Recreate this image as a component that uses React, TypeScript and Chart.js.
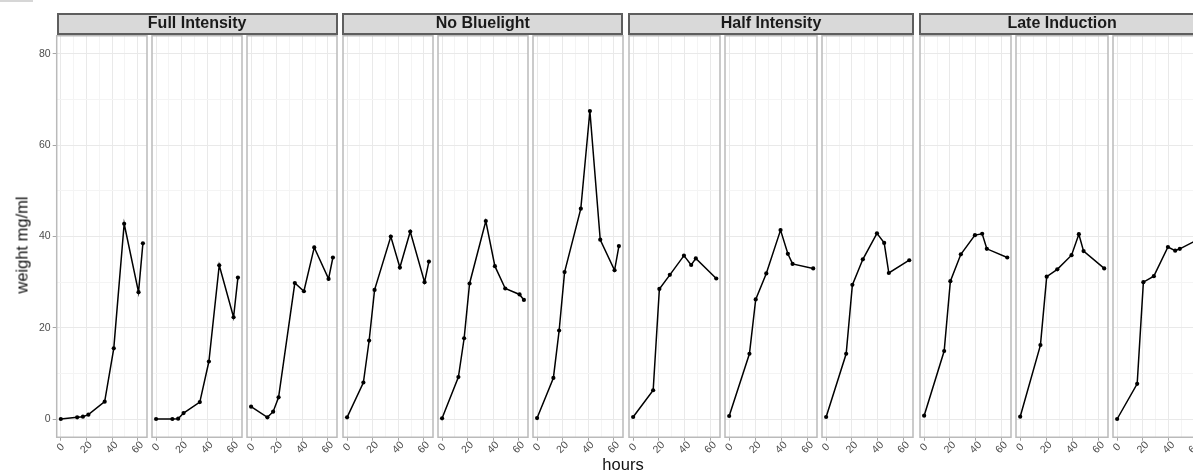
import React, { useEffect, useRef } from "react";
import { Chart, registerables } from "chart.js";

Chart.register(...registerables);
Chart.defaults.font.family = "'Liberation Sans', Arial, Helvetica, sans-serif";

// Sampling times (hours) for the two measurement schedules
const hoursEarly = [0, 12.75, 17.25, 21.5, 34.2, 41.3, 49.4, 60.6, 64];
const hoursLate = [0, 15.5, 20.3, 28.4, 39.3, 44.9, 48.5, 64.3];

const conditions = ["Full Intensity", "No Bluelight", "Half Intensity", "Late Induction"];

// weight (mg/ml) per replicate
const fullIntensity1 = [0, 0.37, 0.5, 0.95, 3.8, 15.5, 42.8, 27.8, 38.5];
const fullIntensity2 = [0, 0, 0.07, 1.3, 3.7, 12.6, 33.7, 22.3, 31.0];
const fullIntensity3 = [2.7, 0.37, 1.6, 4.75, 29.8, 28.0, 37.6, 30.7, 35.4];

const noBluelight1 = [0.37, 8.0, 17.2, 28.3, 40.0, 33.2, 41.1, 30.0, 34.5];
const noBluelight2 = [0.15, 9.2, 17.7, 29.7, 43.4, 33.5, 28.6, 27.3, 26.1];
const noBluelight3 = [0.2, 9.0, 19.4, 32.2, 46.1, 67.5, 39.3, 32.6, 37.9];

const halfIntensity1 = [0.44, 6.3, 28.5, 31.6, 35.8, 33.75, 35.2, 30.8];
const halfIntensity2 = [0.66, 14.3, 26.2, 31.9, 41.4, 36.2, 34.0, 33.0];
const halfIntensity3 = [0.44, 14.3, 29.4, 35.0, 40.7, 38.6, 32.0, 34.8];

const lateInduction1 = [0.73, 14.9, 30.2, 36.1, 40.3, 40.6, 37.3, 35.4];
const lateInduction2 = [0.5, 16.2, 31.2, 32.8, 35.9, 40.5, 36.8, 33.0];
const lateInduction3 = [0, 7.7, 30.0, 31.3, 37.7, 36.9, 37.3, 39.6];

// axis breaks
const xGrid = [0, 10, 20, 30, 40, 50, 60];
const xLabelTicks = [0, 20, 40, 60];
const yGrid = [0, 10, 20, 30, 40, 50, 60, 70, 80];
const xRange = [-3.2, 67.2];
const yRange = [-4, 84];

const panels = [
  { group: 0, hours: hoursEarly, values: fullIntensity1 },
  { group: 0, hours: hoursEarly, values: fullIntensity2 },
  { group: 0, hours: hoursEarly, values: fullIntensity3 },
  { group: 1, hours: hoursEarly, values: noBluelight1 },
  { group: 1, hours: hoursEarly, values: noBluelight2 },
  { group: 1, hours: hoursEarly, values: noBluelight3 },
  { group: 2, hours: hoursLate, values: halfIntensity1 },
  { group: 2, hours: hoursLate, values: halfIntensity2 },
  { group: 2, hours: hoursLate, values: halfIntensity3 },
  { group: 3, hours: hoursLate, values: lateInduction1 },
  { group: 3, hours: hoursLate, values: lateInduction2 },
  { group: 3, hours: hoursLate, values: lateInduction3 },
];

// page layout
const PAGE_W = 1193;
const PAGE_H = 473;
const GROUP_LEFT = [56.7, 342.3, 628.3, 919.3];
const PANEL_W = [91, 91, 92.5, 92.5];
const PANEL_GAP = 4;
const PANEL_TOP = 35.75;
const PANEL_BOTTOM = 437.25;
const X_AXIS_H = 6;
const STRIP_TOP = 13.3;
const STRIP_H = 21.7;

const TICK_GREY = "#a6a6a6";
const TEXT_GREY = "#4d4d4d";

const isMajor = (v: number) => v % 20 === 0;

const panelFrame = {
  id: "panelFrame",
  afterDraw(chart: any) {
    const { ctx, chartArea } = chart;
    ctx.save();
    ctx.strokeStyle = "#bababa";
    ctx.lineWidth = 1.5;
    ctx.strokeRect(chartArea.left, chartArea.top, chartArea.right - chartArea.left, chartArea.bottom - chartArea.top);
    ctx.restore();
  },
};

const slantedXLabels = {
  id: "slantedXLabels",
  afterDraw(chart: any) {
    const { ctx, scales } = chart;
    const xs = scales.x;
    ctx.save();
    ctx.fillStyle = TEXT_GREY;
    ctx.font = "10.5px 'Liberation Sans', Arial, sans-serif";
    ctx.textAlign = "center";
    ctx.textBaseline = "middle";
    xLabelTicks.forEach((v) => {
      const px = xs.getPixelForValue(v);
      ctx.save();
      ctx.translate(px, 447.5);
      ctx.rotate(-Math.PI / 4);
      ctx.fillText(String(v), 0, 0);
      ctx.restore();
    });
    ctx.restore();
  },
};

function panelLeft(index: number) {
  const g = panels[index].group;
  const j = index - g * 3;
  return GROUP_LEFT[g] + j * (PANEL_W[g] + PANEL_GAP);
}

function Panel({ index }: { index: number }) {
  const ref = useRef<HTMLCanvasElement>(null);
  const { group, hours, values } = panels[index];
  const first = index === 0;
  const left = panelLeft(index);
  const width = PANEL_W[group];
  const canvasLeft = first ? 0 : Math.floor(left) - 3;
  const canvasRight = Math.ceil(left + width) + 3;
  const cw = canvasRight - canvasLeft;

  useEffect(() => {
    const yAxisW = first ? left - canvasLeft : 0;
    const gridColor = (c: any) => (isMajor(c.tick?.value ?? 0) ? "#e9e9e9" : "#f4f4f4");
    const chart = new Chart(ref.current as HTMLCanvasElement, {
      type: "line",
      data: {
        datasets: [
          {
            data: hours.map((h, i) => ({ x: h, y: values[i] })),
            borderColor: "#000",
            borderWidth: 1.5,
            pointRadius: 2.1,
            pointBackgroundColor: "#000",
            pointBorderWidth: 0,
            tension: 0,
            fill: false,
          },
        ],
      },
      options: {
        responsive: false,
        animation: false,
        devicePixelRatio: 1,
        events: [],
        layout: {
          padding: {
            left: left - canvasLeft - yAxisW,
            right: canvasRight - (left + width),
            top: PANEL_TOP,
            bottom: PAGE_H - PANEL_BOTTOM - X_AXIS_H,
          },
        },
        plugins: { legend: { display: false }, tooltip: { enabled: false } },
        scales: {
          x: {
            type: "linear",
            min: xRange[0],
            max: xRange[1],
            afterBuildTicks: (s: any) => {
              s.ticks = xGrid.map((v) => ({ value: v }));
            },
            afterFit: (s: any) => {
              s.height = X_AXIS_H;
            },
            ticks: { display: false },
            border: { display: false },
            grid: {
              color: gridColor,
              lineWidth: 1,
              drawTicks: true,
              tickLength: 3.5,
              tickWidth: 1,
              tickColor: (c: any) => (isMajor(c.tick?.value ?? 1) ? TICK_GREY : "rgba(0,0,0,0)"),
            },
          },
          y: {
            type: "linear",
            min: yRange[0],
            max: yRange[1],
            afterBuildTicks: (s: any) => {
              s.ticks = yGrid.map((v) => ({ value: v }));
            },
            afterFit: (s: any) => {
              s.width = yAxisW;
            },
            ticks: {
              display: first,
              padding: 2,
              color: TEXT_GREY,
              font: { size: 10.5 },
              autoSkip: false,
              callback: (v: any) => (isMajor(Number(v)) ? String(v) : ""),
            },
            border: { display: false },
            grid: {
              color: gridColor,
              lineWidth: 1,
              drawTicks: first,
              tickLength: 4,
              tickWidth: 1,
              tickColor: (c: any) => (isMajor(c.tick?.value ?? 1) ? TICK_GREY : "rgba(0,0,0,0)"),
            },
          },
        },
      } as any,
      plugins: [panelFrame, slantedXLabels],
    });
    return () => chart.destroy();
  }, []);

  return (
    <canvas
      ref={ref}
      width={cw}
      height={PAGE_H}
      style={{ position: "absolute", left: canvasLeft, top: 0, width: cw, height: PAGE_H }}
    />
  );
}

function Strip({ group }: { group: number }) {
  const left = GROUP_LEFT[group];
  const right = left + 3 * PANEL_W[group] + 2 * PANEL_GAP;
  return (
    <div
      style={{
        position: "absolute",
        left,
        top: STRIP_TOP,
        width: right - left,
        height: STRIP_H,
        boxSizing: "border-box",
        background: "#d9d9d9",
        border: "2px solid #5e5e5e",
      }}
    >
      <div
        style={{
          position: "absolute",
          left: 0,
          right: 0,
          top: -2.3,
          lineHeight: "20px",
          textAlign: "center",
          fontWeight: "bold",
          fontSize: 16,
          color: "#1a1a1a",
          whiteSpace: "nowrap",
        }}
      >
        {conditions[group]}
      </div>
    </div>
  );
}

export default function App() {
  return (
    <div
      style={{
        position: "fixed",
        left: 0,
        top: 0,
        width: PAGE_W,
        height: PAGE_H,
        overflow: "hidden",
        background: "#fff",
        fontFamily: "'Liberation Sans', Arial, Helvetica, sans-serif",
      }}
    >
      <div style={{ position: "absolute", left: 0, top: 0, width: 33, height: 1.5, background: "#d6d6d6" }} />
      {panels.map((_, i) => (
        <Panel key={i} index={i} />
      ))}
      {conditions.map((_, g) => (
        <Strip key={g} group={g} />
      ))}
      <div
        style={{
          position: "absolute",
          left: 21.8,
          top: 245,
          transform: "translate(-50%, -50%) rotate(-90deg)",
          fontSize: 16.5,
          lineHeight: "19px",
          color: "#111",
          whiteSpace: "nowrap",
        }}
      >
        weight mg/ml
      </div>
      <div
        style={{
          position: "absolute",
          left: 623,
          top: 455.3,
          transform: "translateX(-50%)",
          fontSize: 16.5,
          lineHeight: "19px",
          color: "#111",
          whiteSpace: "nowrap",
        }}
      >
        hours
      </div>
    </div>
  );
}
